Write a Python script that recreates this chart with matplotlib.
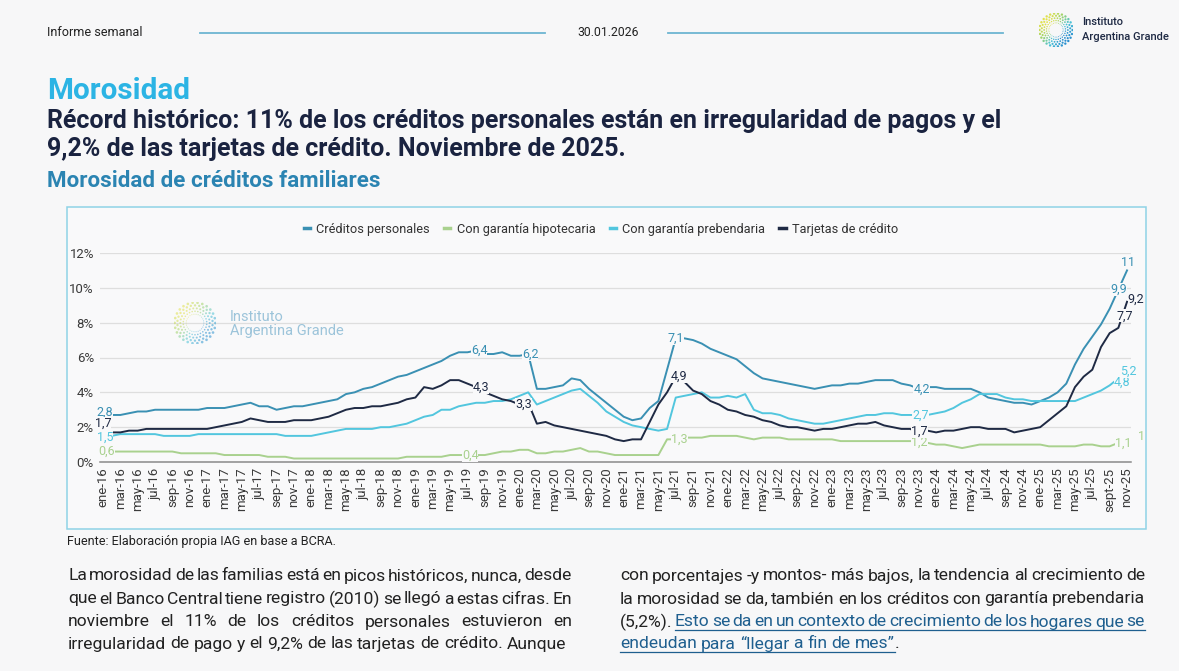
import matplotlib
matplotlib.use('Agg')
import matplotlib.pyplot as plt
from matplotlib.lines import Line2D
from matplotlib.patches import Rectangle
import numpy as np

################################################################################
# data ----
################################################################################

meses = ['ene', 'feb', 'mar', 'abr', 'may', 'jun', 'jul', 'ago', 'sep', 'oct', 'nov', 'dic']
anios = ['16', '17', '18', '19', '20', '21', '22', '23', '24', '25']

# morosidad mensual (%), ene-16 a nov-25
creditos_personales = [
    2.8, 2.7, 2.7, 2.8, 2.9, 2.9, 3.0, 3.0, 3.0, 3.0, 3.0, 3.0,
    3.1, 3.1, 3.1, 3.2, 3.3, 3.4, 3.2, 3.2, 3.0, 3.1, 3.2, 3.2,
    3.3, 3.4, 3.5, 3.6, 3.9, 4.0, 4.2, 4.3, 4.5, 4.7, 4.9, 5.0,
    5.2, 5.4, 5.6, 5.8, 6.1, 6.3, 6.3, 6.4, 6.2, 6.2, 6.3, 6.1,
    6.1, 6.2, 4.2, 4.2, 4.3, 4.4, 4.8, 4.7, 4.2, 3.8, 3.4, 3.0,
    2.6, 2.4, 2.5, 3.1, 3.5, 5.3, 7.1, 7.1, 7.0, 6.8, 6.5, 6.3,
    6.1, 5.9, 5.5, 5.1, 4.8, 4.7, 4.6, 4.5, 4.4, 4.3, 4.2, 4.3,
    4.4, 4.4, 4.5, 4.5, 4.6, 4.7, 4.7, 4.7, 4.5, 4.4, 4.2, 4.3,
    4.3, 4.2, 4.2, 4.2, 4.2, 4.0, 3.7, 3.6, 3.5, 3.4, 3.4, 3.3,
    3.5, 3.7, 4.0, 4.5, 5.6, 6.5, 7.2, 7.9, 8.8, 9.9, 11.0,
]
garantia_hipotecaria = [
    0.6, 0.6, 0.6, 0.6, 0.6, 0.6, 0.6, 0.6, 0.6, 0.5, 0.5, 0.5,
    0.5, 0.5, 0.4, 0.4, 0.4, 0.4, 0.4, 0.3, 0.3, 0.3, 0.2, 0.2,
    0.2, 0.2, 0.2, 0.2, 0.2, 0.2, 0.2, 0.2, 0.2, 0.2, 0.2, 0.3,
    0.3, 0.3, 0.3, 0.3, 0.4, 0.4, 0.4, 0.4, 0.4, 0.5, 0.6, 0.6,
    0.7, 0.7, 0.5, 0.5, 0.6, 0.6, 0.7, 0.8, 0.6, 0.6, 0.5, 0.4,
    0.4, 0.4, 0.4, 0.4, 0.4, 1.3, 1.3, 1.4, 1.4, 1.4, 1.5, 1.5,
    1.5, 1.5, 1.4, 1.3, 1.4, 1.4, 1.4, 1.3, 1.3, 1.3, 1.3, 1.3,
    1.3, 1.2, 1.2, 1.2, 1.2, 1.2, 1.2, 1.2, 1.2, 1.2, 1.2, 1.1,
    1.0, 1.0, 0.9, 0.8, 0.9, 1.0, 1.0, 1.0, 1.0, 1.0, 1.0, 1.0,
    1.0, 0.9, 0.9, 0.9, 0.9, 1.0, 1.0, 0.9, 0.9, 1.1, 1.0,
]
garantia_prebendaria = [
    1.5, 1.5, 1.6, 1.6, 1.6, 1.6, 1.6, 1.5, 1.5, 1.5, 1.5, 1.6,
    1.6, 1.6, 1.6, 1.6, 1.6, 1.6, 1.6, 1.6, 1.6, 1.5, 1.5, 1.5,
    1.5, 1.6, 1.7, 1.8, 1.9, 1.9, 1.9, 1.9, 2.0, 2.0, 2.1, 2.2,
    2.4, 2.6, 2.7, 3.0, 3.0, 3.2, 3.3, 3.4, 3.4, 3.5, 3.5, 3.6,
    3.8, 4.0, 3.3, 3.5, 3.7, 3.9, 4.1, 4.2, 3.8, 3.4, 2.9, 2.6,
    2.3, 2.1, 2.0, 1.9, 1.8, 1.9, 3.7, 3.8, 3.9, 4.0, 3.7, 3.7,
    3.8, 3.7, 3.9, 3.0, 2.8, 2.8, 2.7, 2.5, 2.4, 2.3, 2.2, 2.2,
    2.3, 2.4, 2.5, 2.6, 2.7, 2.7, 2.8, 2.8, 2.7, 2.7, 2.7, 2.7,
    2.8, 2.9, 3.1, 3.4, 3.6, 3.9, 3.9, 3.9, 3.7, 3.6, 3.6, 3.5,
    3.5, 3.5, 3.5, 3.5, 3.5, 3.7, 3.9, 4.1, 4.4, 4.8, 5.2,
]
tarjetas_credito = [
    1.7, 1.7, 1.7, 1.8, 1.8, 1.9, 1.9, 1.9, 1.9, 1.9, 1.9, 1.9,
    1.9, 2.0, 2.1, 2.2, 2.3, 2.5, 2.4, 2.3, 2.3, 2.3, 2.4, 2.4,
    2.4, 2.5, 2.6, 2.8, 3.0, 3.1, 3.1, 3.2, 3.2, 3.3, 3.4, 3.6,
    3.7, 4.3, 4.2, 4.4, 4.7, 4.7, 4.5, 4.3, 4.0, 3.8, 3.6, 3.5,
    3.3, 3.4, 2.2, 2.3, 2.1, 2.0, 1.9, 1.8, 1.7, 1.6, 1.5, 1.3,
    1.2, 1.3, 1.3, 2.3, 3.3, 4.0, 4.9, 4.6, 4.1, 3.9, 3.5, 3.3,
    3.0, 2.9, 2.7, 2.6, 2.4, 2.3, 2.1, 2.0, 2.0, 1.9, 1.8, 1.9,
    1.9, 2.0, 2.1, 2.2, 2.2, 2.3, 2.1, 2.0, 1.9, 1.9, 1.7, 1.8,
    1.7, 1.8, 1.8, 1.9, 2.0, 2.0, 1.9, 1.9, 1.9, 1.7, 1.8, 1.9,
    2.0, 2.4, 2.8, 3.2, 4.3, 4.9, 5.3, 6.6, 7.4, 7.7, 9.2,
]

# month labels, last one is nov-25
fechas = [f'{m}-{a}' for a in anios for m in meses][:len(creditos_personales)]
tick_labels = [f if f != 'sep-25' else 'sept-25' for f in fechas[::2]]

series = [
    ('Créditos personales', creditos_personales, '#3a90b3'),
    ('Con garantía hipotecaria', garantia_hipotecaria, '#a9d18e'),
    ('Con garantía prebendaria', garantia_prebendaria, '#52c6de'),
    ('Tarjetas de crédito', tarjetas_credito, '#1f2a44'),
]

# data labels: series index, month index, pixel offset
etiquetas = [
    (0, 0, 2, -1), (0, 43, 3, 0), (0, 49, 2, 0), (0, 66, 0, 0), (0, 94, 3, 0),
    (0, 117, 0, 0), (0, 118, 1, -8),
    (1, 0, 4, 0), (1, 43, -6, 0), (1, 66, 4, 0), (1, 94, 1, 1),
    (1, 117, 5, 0), (1, 118, 14, -8),
    (2, 0, 2, 1), (2, 94, 2, 0), (2, 117, 4, 4), (2, 118, 1, 0),
    (3, 0, 0, -9), (3, 43, 5, 0), (3, 48, 4, 0), (3, 66, 3, 0), (3, 94, 1, -1),
    (3, 117, 6, -12), (3, 118, 9, -3),
]

################################################################################
# figure ----
################################################################################

W, H = 1179, 671
PAGE = '#f7f7f8'
BOX = '#f9f9fa'
plt.rcParams['font.family'] = ['Roboto', 'DejaVu Sans']

fig = plt.figure(figsize=(W / 100, H / 100), dpi=100, facecolor=PAGE)
renderer = fig.canvas.get_renderer()


def px(x):
    return x / W


def py(y):
    return 1 - y / H


def fit_text(x0, x1, y, s, **kw):
    # text sized so that it spans x0..x1 pixels
    t = fig.text(px(x0), py(y), s, fontsize=10, va='center', **kw)
    w = t.get_window_extent(renderer).width
    t.set_fontsize(10 * (x1 - x0) / w)
    return t


def ring_logo(cx, cy, r, alpha=1.0):
    # dotted circular emblem
    ax_l = fig.add_axes([px(cx - r), py(cy + r), 2 * r / W, 2 * r / H])
    ax_l.set_xlim(-1, 1)
    ax_l.set_ylim(-1, 1)
    ax_l.axis('off')
    cmap = matplotlib.colors.LinearSegmentedColormap.from_list(
        'iag', ['#e3e24d', '#9fd36a', '#4cc3d6', '#2a8fcf'])
    for k, rr in enumerate([0.42, 0.56, 0.70, 0.84, 0.97]):
        ang = np.linspace(0, 2 * np.pi, 26, endpoint=False) + k * 0.12
        col = cmap((np.cos(ang - 2.4) * -1 + 1) / 2)
        ax_l.scatter(rr * np.cos(ang), rr * np.sin(ang), s=(0.4 + 0.6 * k) * r / 16,
                     c=col, alpha=alpha, linewidths=0)


# header ----
fit_text(47, 143, 33, 'Informe semanal', color='#222')
fit_text(577, 638, 33, '30.01.2026', color='#222')
for x0, x1 in [(200, 545), (668, 1003)]:
    fig.add_artist(Line2D([px(x0), px(x1)], [py(33), py(33)], color='#6db5d2', lw=1.3,
                          transform=fig.transFigure))
ring_logo(1056, 30, 17)
fig.text(px(1082), py(22), 'Instituto', fontsize=8, color='#1f2a44', fontweight='medium', va='center')
fig.text(px(1082), py(37), 'Argentina Grande', fontsize=8, color='#1f2a44', fontweight='medium',
         va='center')

# titles ----
fit_text(47, 190, 91, 'Morosidad', color='#2cb4e4', fontweight='bold')
t1 = fit_text(47, 1003, 121, 'Récord histórico: 11% de los créditos personales están en irregularidad de pagos y el',
              color='#1a2340', fontweight='bold')
fig.text(px(47), py(149), '9,2% de las tarjetas de crédito. Noviembre de 2025.',
         fontsize=t1.get_fontsize(), color='#1a2340', fontweight='bold', va='center')
fit_text(47, 380, 181, 'Morosidad de créditos familiares', color='#2b84b2', fontweight='bold')

# chart box ----
fig.add_artist(Rectangle((px(67), py(529)), px(1146) - px(67), py(207) - py(529),
                         transform=fig.transFigure, facecolor=BOX, edgecolor='#8fd3e6',
                         lw=1.1, zorder=-1))

################################################################################
# plot ----
################################################################################

ax = fig.add_axes([px(99.5), py(462), px(1130.5) - px(99.5), py(253) - py(462)])
ax.set_facecolor('none')
x = np.arange(len(creditos_personales))

for nombre, valores, color in series:
    ax.plot(x, valores, color=color, lw=1.4, label=nombre, zorder=2)

for si, i, dx, dy in etiquetas:
    v = series[si][1][i]
    txt = f'{v:.1f}'.replace('.', ',')
    if txt.endswith(',0'):
        txt = txt[:-2]
    ax.annotate(txt, (x[i], v), xytext=(dx, -dy), textcoords='offset pixels',
                ha='center', va='center', fontsize=9, color=series[si][2], zorder=4,
                bbox=dict(boxstyle='square,pad=0.0', fc=BOX, ec='none'))

ax.set_xlim(-0.4, len(x) - 0.6)
ax.set_ylim(0, 12)
ax.set_yticks(np.arange(0, 13, 2))
ax.set_yticklabels([f'{t}%' for t in range(0, 13, 2)])
ax.set_xticks(x[::2])
ax.set_xticklabels(tick_labels, rotation=90)
ax.tick_params(axis='both', length=0, labelsize=9.5, labelcolor='#3a3a3a')
ax.tick_params(axis='x', pad=4)
ax.tick_params(axis='y', pad=4)
ax.grid(axis='y', color='#dedede', lw=0.9, zorder=0)
for s in ['top', 'right', 'left']:
    ax.spines[s].set_visible(False)
ax.spines['bottom'].set_color('#8a8a8a')
ax.spines['bottom'].set_linewidth(1.1)

handles = [Line2D([], [], color=c, lw=2.5) for _, _, c in series]
fig.legend(handles, [n for n, _, _ in series], loc='center', bbox_to_anchor=(px(601), py(229)),
           ncol=4, frameon=False, fontsize=9.2, handlelength=0.5, handletextpad=0.5,
           columnspacing=1.1, labelcolor='#333')

# watermark ----
ring_logo(195, 323, 21, alpha=0.55)
fig.text(px(230), py(317), 'Instituto', fontsize=10.5, color='#9cc4da', va='center')
fig.text(px(230), py(331), 'Argentina Grande', fontsize=10.5, color='#9cc4da', va='center')

fit_text(67, 336, 542, 'Fuente: Elaboración propia IAG en base a BCRA.', color='#222')

################################################################################
# body text ----
################################################################################

TEXT = '#222222'
LINK = '#1f5f8f'
probe = fit_text(68, 567, -50, 'irregularidad de pago y el 9,2% de las tarjetas de crédito. Aunque')
BODY = probe.get_fontsize()
probe.remove()


def text_line(parts, x0, x1, y, justified=True):
    words = []
    for s, color, link in parts:
        for k, w in enumerate(s.split()):
            glue = k == 0 and s[0] in '.,'
            words.append((w, color, link, glue))
    objs = [fig.text(px(x0), py(y), w, fontsize=BODY, color=c, va='center')
            for w, c, _, _ in words]
    widths = [t.get_window_extent(renderer).width for t in objs]
    n_gaps = sum(1 for w in words[1:] if not w[3])
    if justified and n_gaps:
        gap = (x1 - x0 - sum(widths)) / n_gaps
    else:
        gap = BODY * 0.33
    xc = x0
    spans = []
    for k, (t, wd, (_, c, link, glue)) in enumerate(zip(objs, widths, words)):
        if k > 0:
            xc += 0 if glue else gap
        t.set_x(px(xc))
        if link:
            spans.append((xc, xc + wd))
        xc += wd
    if spans:
        yl = y + BODY * 0.66
        fig.add_artist(Line2D([px(spans[0][0]), px(spans[-1][1])], [py(yl), py(yl)],
                              color=LINK, lw=0.9, transform=fig.transFigure))


text_line([('La morosidad de las familias está en picos históricos, nunca, desde', TEXT, False)], 68, 572, 576)
text_line([('que el Banco Central tiene registro (2010) se llegó a estas cifras. En', TEXT, False)], 68, 572, 599)
text_line([('noviembre el 11% de los créditos personales estuvieron en', TEXT, False)], 68, 572, 622)
text_line([('irregularidad de pago y el 9,2% de las tarjetas de crédito. Aunque', TEXT, False)], 68, 572, 644,
          justified=False)
text_line([('con porcentajes -y montos- más bajos, la tendencia al crecimiento de', TEXT, False)], 620, 1145, 576)
text_line([('la morosidad se da, también en los créditos con garantía prebendaria', TEXT, False)], 620, 1145, 599)
text_line([('(5,2%).', TEXT, False),
           ('Esto se da en un contexto de crecimiento de los hogares que se', LINK, True)], 620, 1145, 622)
text_line([('endeudan para “llegar a fin de mes”', LINK, True), ('.', TEXT, False)], 620, 1145, 644,
          justified=False)

fig.savefig('out.png', dpi=100, facecolor=PAGE)
